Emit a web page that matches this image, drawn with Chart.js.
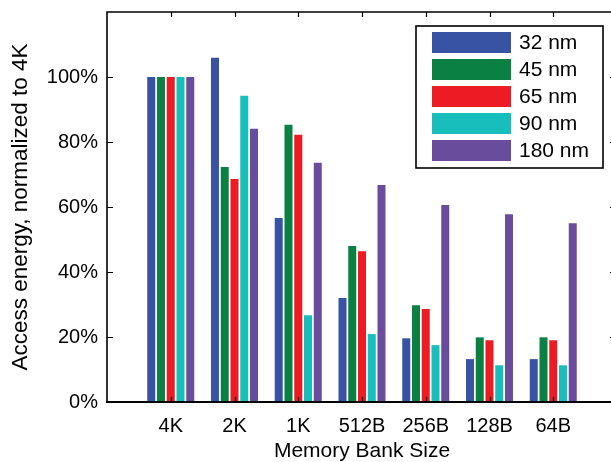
<!DOCTYPE html>
<html>
<head>
<meta charset="utf-8">
<script src="https://cdn.jsdelivr.net/npm/chart.js@4/dist/chart.umd.min.js"></script>
<style>
  html, body { margin: 0; padding: 0; background: #fff; overflow: hidden; }
  #wrap { width: 625px; height: 462px; }
</style>
</head>
<body>
<div id="wrap"><canvas id="c" width="625" height="462"></canvas></div>
<script>
// ---- data ----
const categories = ['4K', '2K', '1K', '512B', '256B', '128B', '64B'];
const seriesNames = ['32 nm', '45 nm', '65 nm', '90 nm', '180 nm'];
const s32  = [100, 105.9, 56.6, 32.0, 19.6, 13.2, 13.2];
const s45  = [100, 72.3, 85.3, 48.0, 29.8, 19.9, 19.9];
const s65  = [100, 68.6, 82.2, 46.4, 28.6, 19.0, 19.0];
const s90  = [100, 94.2, 26.7, 20.9, 17.5, 11.3, 11.3];
const s180 = [100, 84.1, 73.6, 66.8, 60.6, 57.8, 55.0];
const yTicks = [0, 20, 40, 60, 80, 100];
const colors = ['#3953A4', '#0B8043', '#ED1C24', '#17BEBB', '#6A4C9C'];

const allSeries = [s32, s45, s65, s90, s180];
const FONT = "'Liberation Sans', Arial, Helvetica, sans-serif";

const datasets = allSeries.map((arr, i) => ({
  label: seriesNames[i],
  data: arr.map((v, j) => ({ x: j + 1, y: v })),
  backgroundColor: colors[i],
  borderWidth: 0,
  categoryPercentage: 0.765,
  barPercentage: 0.82
}));

const framePlugin = {
  id: 'frame',
  afterDatasetsDraw(chart) {
    const { ctx, chartArea: a, scales } = chart;
    const xs = scales.x, ys = scales.y;
    ctx.save();
    ctx.strokeStyle = '#000';
    ctx.lineWidth = 1.2;
    ctx.beginPath();
    yTicks.forEach(v => {
      const py = Math.round(ys.getPixelForValue(v)) + 0.5;
      ctx.moveTo(a.left, py); ctx.lineTo(a.left + 6, py);
      ctx.moveTo(a.right, py); ctx.lineTo(a.right - 7, py);
    });
    categories.forEach((c, j) => {
      const px = Math.round(xs.getPixelForValue(j + 1)) + 0.5;
      ctx.moveTo(px, a.top); ctx.lineTo(px, a.top + 5);
      ctx.moveTo(px, a.bottom); ctx.lineTo(px, a.bottom - 5);
    });
    ctx.stroke();
    ctx.lineWidth = 1.6;
    ctx.beginPath();
    ctx.moveTo(a.left, a.bottom); ctx.lineTo(a.left, a.top); ctx.lineTo(a.right, a.top); ctx.lineTo(a.right, a.bottom);
    ctx.stroke();
    ctx.lineWidth = 2.2;
    ctx.beginPath();
    ctx.moveTo(a.left - 1, a.bottom); ctx.lineTo(a.right, a.bottom);
    ctx.stroke();
    ctx.restore();
  },
  afterDraw(chart) {
    const { ctx } = chart;
    ctx.save();
    const bx = 416, by = 26, bw = 187, bh = 142;
    ctx.fillStyle = '#fff';
    ctx.fillRect(bx, by, bw, bh);
    ctx.strokeStyle = '#000';
    ctx.lineWidth = 1.6;
    ctx.strokeRect(bx, by, bw, bh);
    ctx.font = '21px ' + FONT;
    ctx.textBaseline = 'middle';
    ctx.textAlign = 'left';
    chart.data.datasets.forEach((ds, i) => {
      const y = 32 + i * 27;
      ctx.fillStyle = ds.backgroundColor;
      ctx.fillRect(432, y, 79, 21);
      ctx.fillStyle = '#000';
      ctx.fillText(ds.label, 519, y + 11);
    });
    ctx.restore();
  }
};

new Chart(document.getElementById('c'), {
  type: 'bar',
  data: { datasets },
  options: {
    responsive: false,
    animation: false,
    devicePixelRatio: 1,
    layout: { padding: { top: 12, right: 8, left: 0, bottom: 0 } },
    plugins: { legend: { display: false }, tooltip: { enabled: false } },
    scales: {
      x: {
        type: 'linear',
        min: 0, max: 8,
        offset: false,
        grid: { display: false, drawTicks: false },
        border: { display: false },
        afterBuildTicks: s => { s.ticks = categories.map((c, j) => ({ value: j + 1 })); },
        afterFit: s => { s.height = 60; s.paddingLeft = 0; s.paddingRight = 0; },
        ticks: {
          autoSkip: false,
          maxRotation: 0,
          padding: 12,
          color: '#000',
          font: { family: FONT, size: 20 },
          callback: v => categories[v - 1]
        },
        title: {
          display: true,
          text: 'Memory Bank Size',
          color: '#000',
          font: { family: FONT, size: 21, lineHeight: 1.0 },
          padding: { top: 0, bottom: 0 }
        }
      },
      y: {
        min: 0, max: 120,
        grid: { display: false, drawTicks: false },
        border: { display: false },
        afterBuildTicks: s => { s.ticks = yTicks.map(v => ({ value: v })); },
        afterFit: s => { s.width = 107; s.paddingTop = 0; s.paddingBottom = 0; },
        ticks: {
          padding: 9,
          color: '#000',
          font: { family: FONT, size: 20 },
          callback: v => v + '%'
        },
        title: {
          display: true,
          text: 'Access energy, normalized to 4K',
          color: '#000',
          font: { family: FONT, size: 22.5, lineHeight: 1.2 },
          padding: { top: 7, bottom: 0 }
        }
      }
    }
  },
  plugins: [framePlugin]
});
</script>
</body>
</html>
